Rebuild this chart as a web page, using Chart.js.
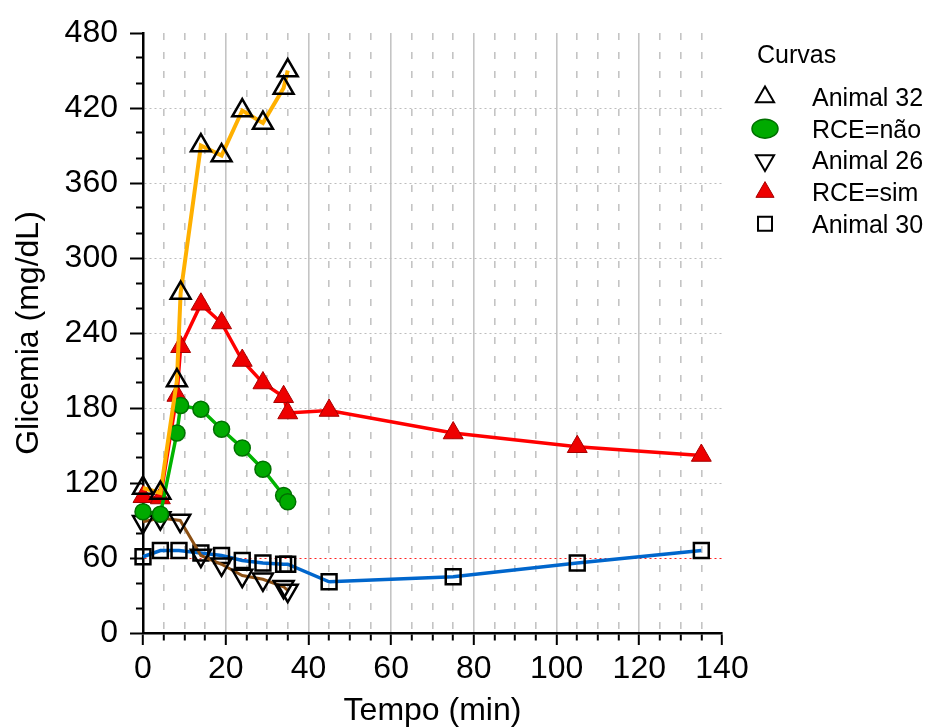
<!DOCTYPE html>
<html>
<head>
<meta charset="utf-8">
<title>Glicemia x Tempo</title>
<style>
  html, body { margin: 0; padding: 0; background: #ffffff; }
  #wrap { width: 932px; height: 727px; position: relative; }
</style>
<script src="https://cdn.jsdelivr.net/npm/chart.js@4.4.1/dist/chart.umd.min.js"></script>
</head>
<body>
<div id="wrap"><canvas id="c" width="932" height="727"></canvas></div>
<script>
// Glicemia (mg/dL) ao longo do tempo (min), por curva
const tempoA32 = [0, 4.2, 8.2, 9.1, 14, 19, 24, 29, 34, 35];
const glicA32  = [116, 112, 202, 272, 390, 382, 418, 408, 436, 450];

const tempoNao = [0, 4.2, 8.2, 9.1, 14, 19, 24, 29, 34, 35];
const glicNao  = [97, 95, 160, 182, 179, 163, 148, 131, 110, 105];

const tempoA26 = [0, 4.2, 9, 14, 19, 24, 29, 34, 35];
const glicA26  = [89, 92, 90, 62, 55, 46, 43, 37, 34];

const tempoSim = [0, 4.2, 8.2, 9.1, 14, 19, 24, 29, 34, 35, 45, 75, 105, 135];
const glicSim  = [109, 108, 190, 229, 263, 248, 218, 200, 189, 176, 178, 160, 149, 142];

const tempoA30 = [0, 4.2, 8.7, 14, 19, 24, 29, 34, 35, 45, 75, 105, 135];
const glicA30  = [61, 66, 66, 64, 62, 58, 56, 55, 55, 41, 45, 56, 66];

const xTickLabels = [0, 20, 40, 60, 80, 100, 120, 140];
const yTickLabels = [0, 60, 120, 180, 240, 300, 360, 420, 480];
const limiteGlicemia = 60;
const keyTitle = 'Curvas';

const FONT = '"Liberation Sans", Arial, Helvetica, sans-serif';
Chart.defaults.font.family = FONT;
Chart.defaults.color = '#000';

function pts(xs, ys) { return xs.map((x, i) => ({ x: x, y: ys[i] })); }

function curve(label, xs, ys, style) {
  return Object.assign({
    label: label,
    data: pts(xs, ys),
    showLine: true,
    fill: false,
    borderWidth: 3.5,
    tension: 0,
    clip: false,
    pointRadius: 11.5,
    pointHoverRadius: 11.5,
    pointBorderWidth: 2.5,
    pointBorderColor: '#000000',
    pointBackgroundColor: 'rgba(0,0,0,0)'
  }, style);
}

const datasets = [
  curve('Animal 32', tempoA32, glicA32, {
    borderColor: '#FFB000', borderWidth: 4, pointStyle: 'triangle'
  }),
  curve('RCE=não', tempoNao, glicNao, {
    borderColor: '#00B400', pointStyle: 'circle', pointRadius: 8,
    pointBackgroundColor: '#00AA00', pointBorderColor: '#007000', pointBorderWidth: 1.5
  }),
  curve('Animal 26', tempoA26, glicA26, {
    borderColor: '#8C5014', borderWidth: 3, pointStyle: 'triangle', pointRotation: 180
  }),
  curve('RCE=sim', tempoSim, glicSim, {
    borderColor: '#FF0000', pointStyle: 'triangle',
    pointBackgroundColor: '#EE0000', pointBorderColor: '#A80000', pointBorderWidth: 1
  }),
  curve('Animal 30', tempoA30, glicA30, {
    borderColor: '#0066CC', pointStyle: 'rect', pointRadius: 10.5
  })
];

// Chave das curvas, desenhada à direita da área do gráfico
function keyMarker(ctx, ds, x, y) {
  ctx.save();
  ctx.lineJoin = 'miter';
  const style = ds.pointStyle;
  ctx.beginPath();
  if (style === 'triangle') {
    const r = 10.5;
    let a = ds.pointRotation ? Math.PI : 0;
    for (let k = 0; k < 3; k++) {
      const px = x + Math.sin(a) * r, py = y - Math.cos(a) * r;
      if (k === 0) ctx.moveTo(px, py); else ctx.lineTo(px, py);
      a += 2 * Math.PI / 3;
    }
    ctx.closePath();
  } else if (style === 'circle') {
    ctx.ellipse(x, y, 13, 9.5, 0, 0, Math.PI * 2);
  } else {
    ctx.rect(x - 7, y - 7, 14, 14);
  }
  ctx.fillStyle = ds.pointBackgroundColor;
  ctx.fill();
  ctx.lineWidth = Math.min(ds.pointBorderWidth, 2);
  ctx.strokeStyle = ds.pointBorderColor;
  ctx.stroke();
  ctx.restore();
}

const curveKey = {
  id: 'curveKey',
  afterDraw(chart) {
    const ctx = chart.ctx;
    ctx.save();
    ctx.font = '25px ' + FONT;
    ctx.fillStyle = '#000';
    ctx.textAlign = 'left';
    ctx.textBaseline = 'middle';
    ctx.fillText(keyTitle, 757, 56);
    chart.data.datasets.forEach((ds, i) => {
      const y = 97 + i * 31.7;
      keyMarker(ctx, ds, 765, y);
      ctx.fillStyle = '#000';
      ctx.fillText(ds.label, 812, y + 2);
    });
    ctx.restore();
  }
};

const isMajorX = v => Math.abs(v / 20 - Math.round(v / 20)) < 1e-9;
const isMajorY = v => Math.abs(v / 60 - Math.round(v / 60)) < 1e-9;

new Chart(document.getElementById('c'), {
  type: 'scatter',
  data: { datasets: datasets },
  options: {
    responsive: false,
    animation: false,
    devicePixelRatio: 1,
    events: [],
    layout: { padding: { left: 10, right: 210, top: 33, bottom: 0 } },
    plugins: { legend: { display: false }, tooltip: { enabled: false } },
    scales: {
      x: {
        type: 'linear',
        min: 0, max: 140,
        ticks: {
          stepSize: 5, autoSkip: false, maxRotation: 0, minRotation: 0,
          padding: 5, color: '#000', font: { size: 32 },
          callback: v => xTickLabels.includes(v) ? String(v) : ''
        },
        grid: {
          color: c => {
            const v = c.tick ? c.tick.value : null;
            if (v === null || v === 0 || v === 140) return 'rgba(0,0,0,0)';
            return '#C4C4C4';
          },
          lineWidth: 1.6,
          tickLength: 12,
          tickWidth: 2,
          tickColor: '#000',
          tickBorderDash: c => (c.tick && !isMajorX(c.tick.value)) ? [6, 40] : []
        },
        border: {
          display: true, color: '#000', width: 2.5,
          dash: c => (c.tick && !isMajorX(c.tick.value)) ? [7, 12] : []
        },
        title: {
          display: true, text: 'Tempo (min)', color: '#000',
          font: { size: 32, lineHeight: 1.0 }, padding: 0
        },
        afterFit: s => { s.height = 94; }
      },
      y: {
        type: 'linear',
        min: 0, max: 480,
        ticks: {
          stepSize: 20, autoSkip: false,
          padding: 12, color: '#000', font: { size: 32 },
          callback: v => yTickLabels.includes(v) ? String(v) : ''
        },
        grid: {
          color: c => {
            const v = c.tick ? c.tick.value : null;
            if (v === null || v === 0 || v === 480) return 'rgba(0,0,0,0)';
            if (v === limiteGlicemia) return '#FF2020';
            return isMajorY(v) ? '#BDBDBD' : 'rgba(0,0,0,0)';
          },
          lineWidth: 1,
          tickLength: 13,
          tickWidth: 2,
          tickColor: '#000',
          tickBorderDash: c => (c.tick && !isMajorY(c.tick.value)) ? [0, 6, 40] : []
        },
        border: {
          display: true, color: '#000', width: 2.5,
          dash: c => c.tick ? [2, 3] : []
        },
        title: {
          display: true, text: 'Glicemia (mg/dL)', color: '#000',
          font: { size: 32, lineHeight: 1.0 }, padding: { top: 3, bottom: 0 }
        },
        afterFit: s => { s.width = 133; }
      }
    }
  },
  plugins: [curveKey]
});
</script>
</body>
</html>
